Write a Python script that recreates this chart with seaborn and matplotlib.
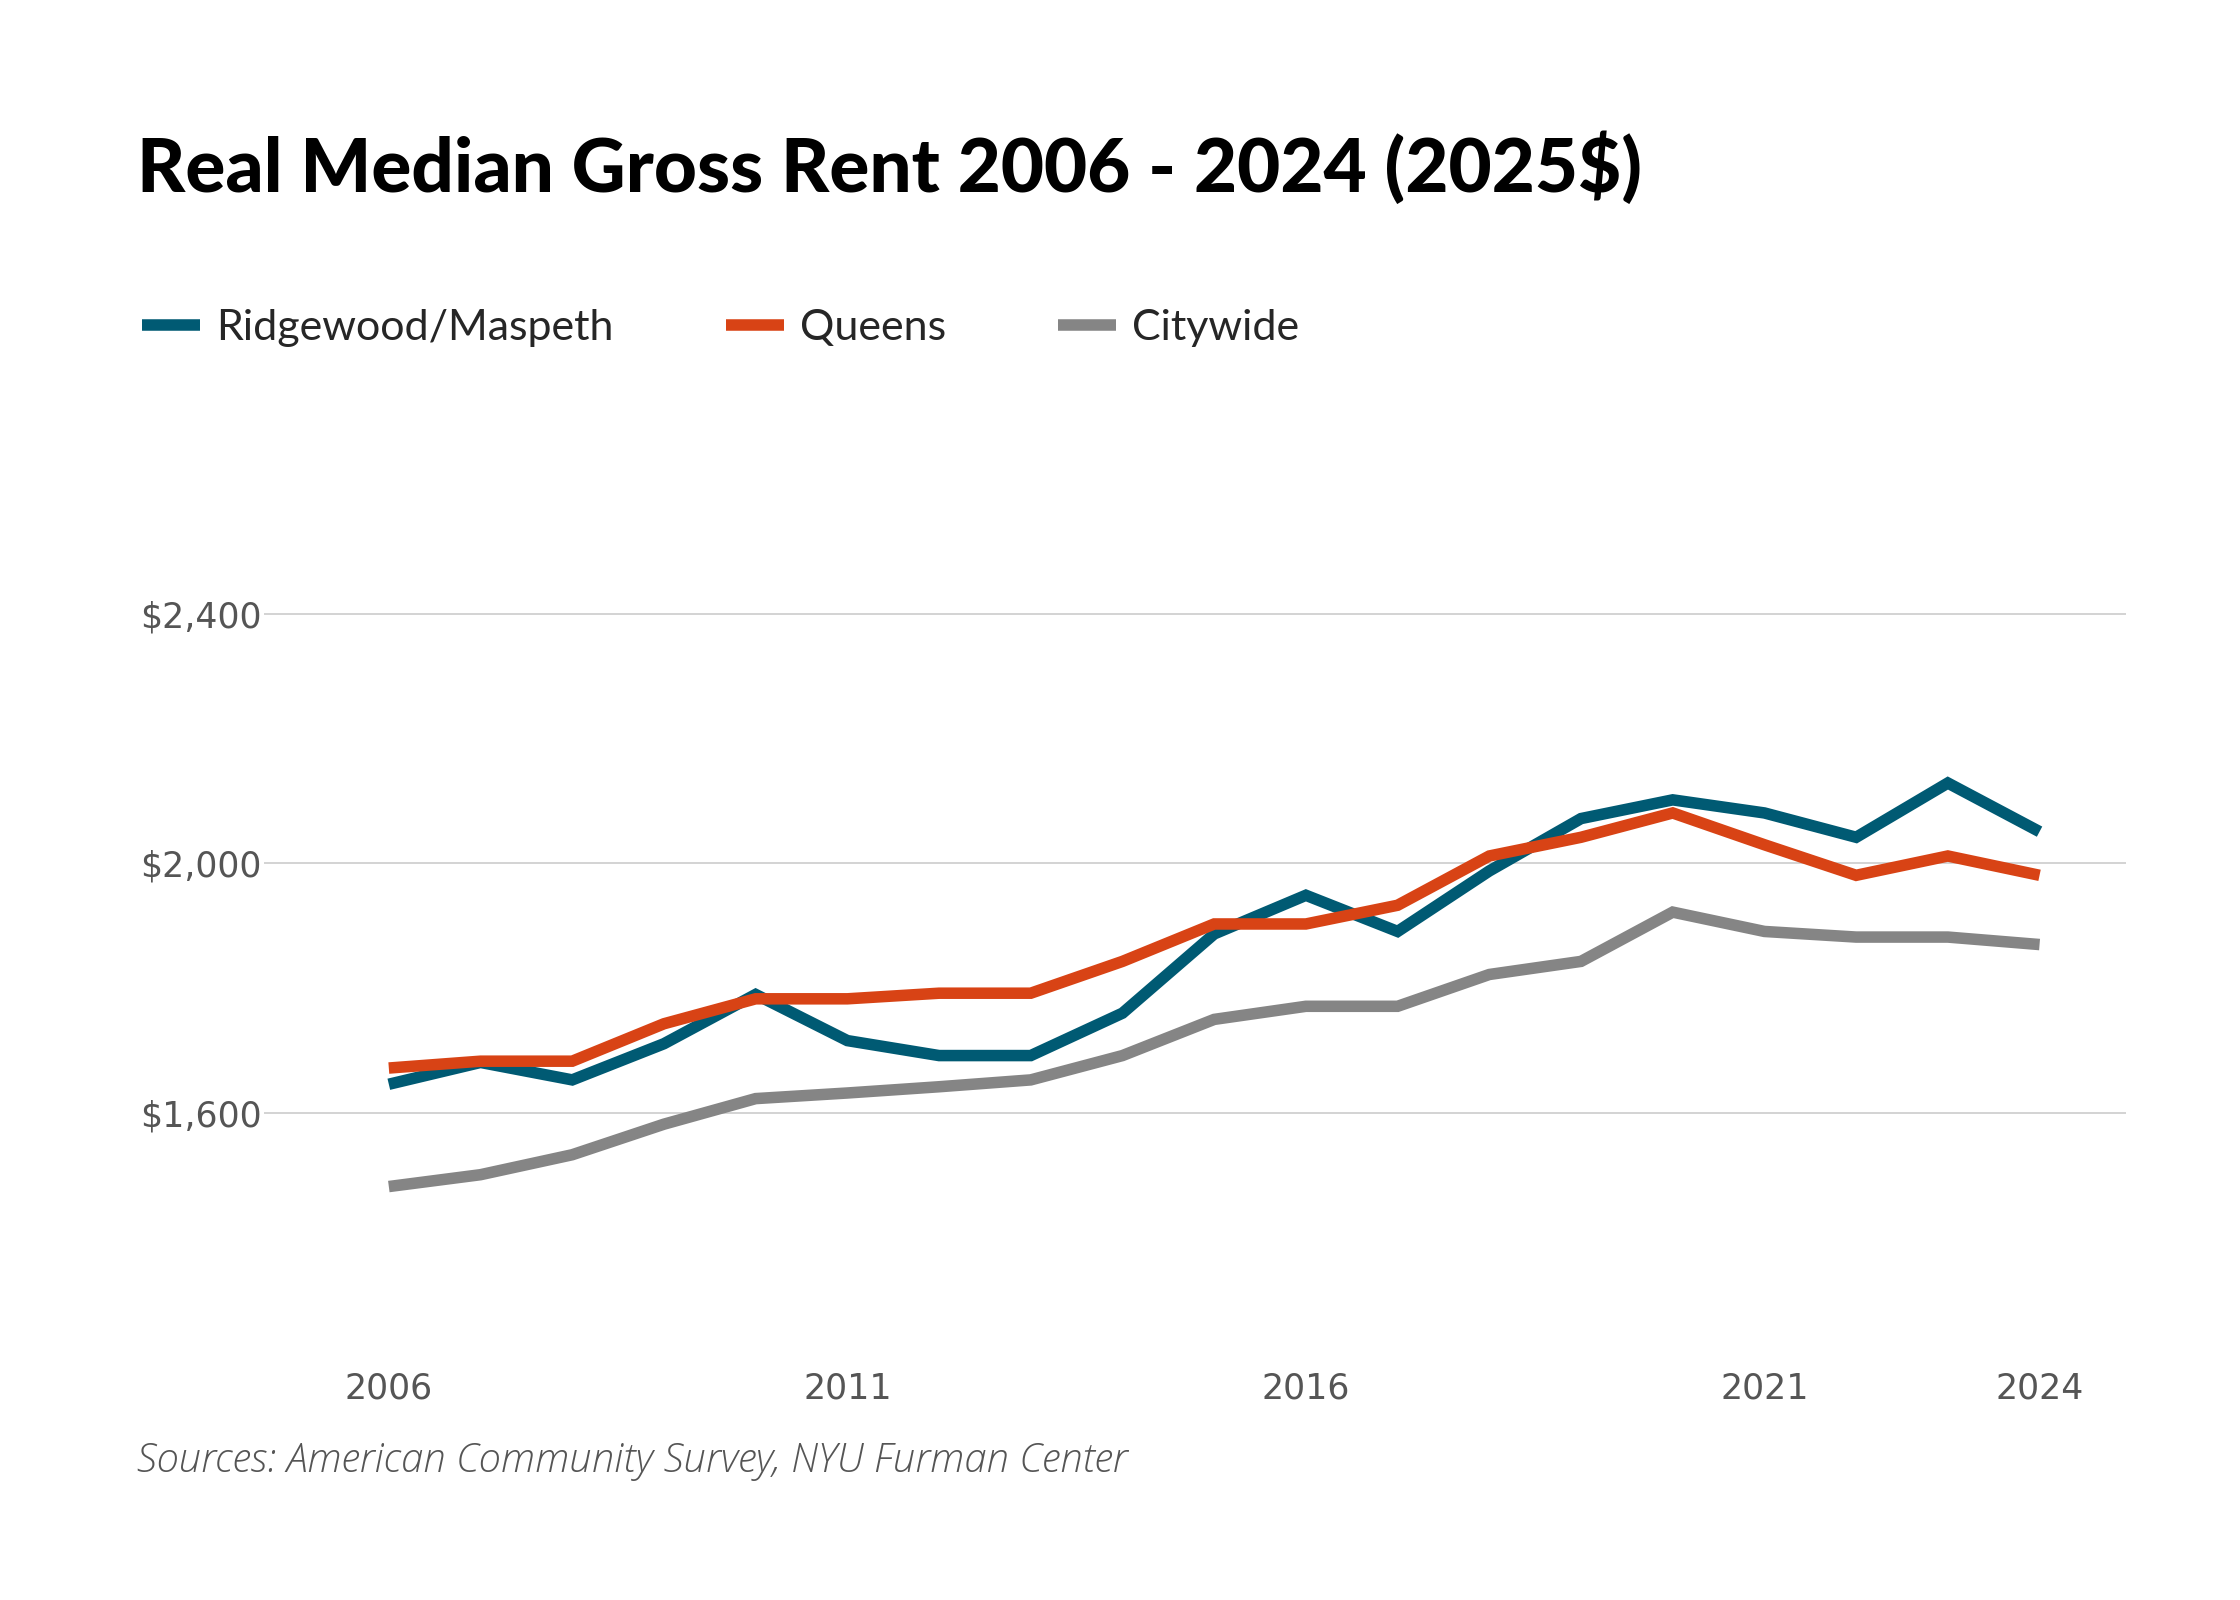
import numpy as np
import pandas as pd
import matplotlib.pyplot as plt
import seaborn as sns

years = list(range(2006, 2025))
ridgewood = [1646, 1681, 1653, 1711, 1790, 1716, 1692, 1692, 1760, 1887,
             1949, 1891, 1988, 2072, 2102, 2081, 2042, 2129, 2051]
queens = [1672, 1683, 1683, 1743, 1783, 1783, 1792, 1792, 1843, 1903,
          1903, 1933, 2012, 2042, 2081, 2030, 1981, 2012, 1981]
citywide = [1482, 1501, 1533, 1582, 1623, 1632, 1642, 1653, 1692, 1750,
            1771, 1771, 1822, 1843, 1922, 1891, 1882, 1882, 1870]
series_names = ['Ridgewood/Maspeth', 'Queens', 'Citywide']
x_ticks = [2006, 2011, 2016, 2021, 2024]
y_ticks = [1600, 2000, 2400]

df = pd.DataFrame({
    'year': years * 3,
    'rent': ridgewood + queens + citywide,
    'area': [series_names[0]] * 19 + [series_names[1]] * 19 + [series_names[2]] * 19,
})

sns.set_style('white')
plt.rcParams['font.family'] = ['Lato', 'DejaVu Sans']
plt.rcParams['lines.solid_capstyle'] = 'butt'
plt.rcParams['lines.solid_joinstyle'] = 'miter'

palette = {'Ridgewood/Maspeth': '#005a73', 'Queens': '#d84315', 'Citywide': '#858585'}

fig = plt.figure(figsize=(22.4, 16), dpi=100)
ax = fig.add_axes([0.1179, 0.16875, 0.949 - 0.1179, 0.73125 - 0.16875])

sns.lineplot(data=df, x='year', y='rent', hue='area', palette=palette,
             linewidth=8.3, ax=ax, legend=False)

ax.set_xlim(2004.64, 2024.94)
ax.set_ylim(1252, 2695)
ax.set_xticks(x_ticks)
ax.set_yticks(y_ticks)
ax.set_yticklabels([f'${v:,}' for v in y_ticks])
ax.set_xlabel('')
ax.set_ylabel('')
ax.grid(axis='y', color='#cccccc', linewidth=1.2)
ax.set_axisbelow(True)
for s in ax.spines.values():
    s.set_visible(False)
ax.tick_params(axis='both', length=0, labelsize=25, colors='#555555')
ax.tick_params(axis='x', pad=30)
ax.tick_params(axis='y', pad=2)
for lab in ax.get_xticklabels() + ax.get_yticklabels():
    lab.set_family(['DejaVu Sans'])

fig.text(0.0612, 0.88, 'Real Median Gross Rent 2006 - 2024 (2025$)',
         fontsize=53.7, fontweight='black', color='black', va='baseline')

handles = [plt.Line2D([0], [0], color=palette[n], linewidth=8.3, solid_capstyle='butt')
           for n in series_names]
fig.legend(handles, series_names, loc='center left', bbox_to_anchor=(0.0634, 0.795),
           ncol=3, frameon=False, fontsize=31, handlelength=1.35, handletextpad=0.37,
           columnspacing=2.6, borderpad=0, borderaxespad=0)

fig.text(0.0612, 0.087, 'Sources: American Community Survey, NYU Furman Center',
         fontsize=28.8, style='italic', fontweight='light', color='#555555', va='center',
         family=['Open Sans', 'DejaVu Sans'])

fig.savefig('out.png', dpi=100)
